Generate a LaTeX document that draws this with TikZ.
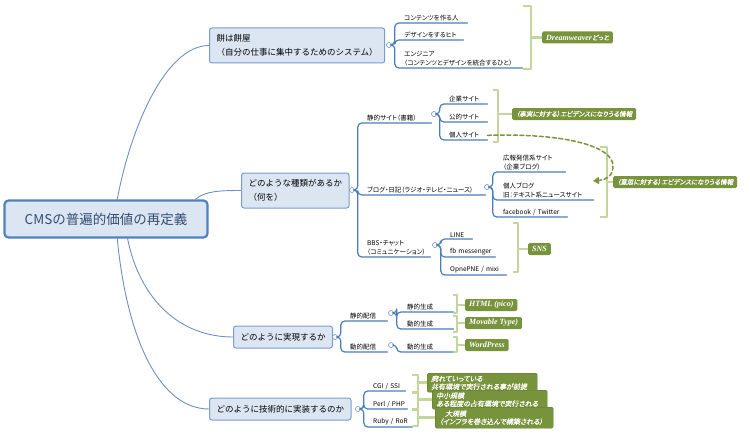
\documentclass[tikz,border=0pt]{standalone}
\usepackage{fontspec}
\setmainfont{Noto Sans CJK JP}[RawFeature=+palt]
\newfontfamily\boxfont{Noto Sans CJK JP}
\newfontfamily\notefont{Noto Sans CJK JP}[FakeSlant=0.2,FakeBold=0.6,RawFeature=+palt]
\newfontfamily\notelatin{Liberation Serif}
\usetikzlibrary{arrows.meta,calc}

\definecolor{linkblue}{RGB}{74,126,187}
\definecolor{stemblue}{RGB}{111,143,197}
\definecolor{boxfill}{RGB}{220,230,242}
\definecolor{boxline}{RGB}{122,156,205}
\definecolor{cmsline}{RGB}{79,129,189}
\definecolor{cmstext}{RGB}{52,77,117}
\definecolor{notegreen}{RGB}{119,147,60}
\definecolor{bracketgreen}{RGB}{195,214,155}

\newcommand{\lat}[1]{{\notelatin\bfseries\itshape\fontsize{8}{9}\selectfont #1}}

\begin{document}
\begin{tikzpicture}[
    x=1pt, y=-1pt,
    line cap=round,
    line join=round,
    central/.style={draw=cmsline, line width=2.2pt, fill=boxfill, rounded corners=4pt,
      text=cmstext, font=\boxfont\fontsize{13.5}{15}\selectfont,
      minimum width=203pt, minimum height=37pt},
    topic/.style={draw=boxline, line width=1pt, fill=boxfill, rounded corners=2.5pt,
      anchor=west, align=left, inner xsep=7pt, font=\boxfont\fontsize{8.5}{14.5}\selectfont},
    leaf/.style={anchor=south west, align=left, inner xsep=1.5pt, inner ysep=1.5pt,
      font=\fontsize{6.5}{9.5}\selectfont},
    knob/.style={circle, draw=stemblue, fill=white, line width=.6pt,
      inner sep=0pt, minimum size=5pt},
    stem/.style={draw=stemblue, line width=.9pt},
    twig/.style={draw=linkblue, line width=1.2pt, rounded corners=4pt},
    bracket/.style={draw=bracketgreen, line width=2.2pt, line cap=butt},
    note/.style={fill=notegreen, text=white, rounded corners=1.5pt, anchor=west,
      inner xsep=4pt, inner ysep=1pt, minimum height=12pt,
      font=\notefont\fontsize{6.5}{7.5}\selectfont},
    bignote/.style={note, anchor=north west, align=left, draw=notegreen!80!black,
      line width=.4pt, font=\notefont\fontsize{7}{8}\selectfont},
    hint/.style={draw=notegreen, line width=1.5pt, dash pattern=on 4pt off 2.5pt,
      -{Triangle[length=6pt, width=7pt]}}
  ]
\useasboundingbox (0,0) rectangle (750,436);

% ============================================================
% CENTRAL TOPIC
% ============================================================
\node[central] (cms) at (106,219) {CMSの普遍的価値の再定義};

\coordinate (o1) at ($(cms.north west)!0.555!(cms.north east)$);
\coordinate (o2) at ($(cms.north west)!0.935!(cms.north east)$);
\coordinate (o3) at ($(cms.south west)!0.605!(cms.south east)$);
\coordinate (o4) at ($(cms.south west)!0.555!(cms.south east)$);

% ============================================================
% BRANCH 1
% ============================================================
\node[topic, minimum height=35pt] (b1) at (209,45.5)
  {餅は餅屋\\（自分の仕事に集中するためのシステム）};
\draw[stem] (o1) .. controls (130,130) and (165,45.5) .. (b1.west);

\node[knob] (d1) at (389,45) {};
\node[leaf, text width=61.5pt] (c11) at (402.5,23) {コンテンツを作る人};
\node[leaf, text width=57.5pt] (c12) at (402.5,40) {デザインをするヒト};
\node[leaf, text width=116.5pt] (c13) at (402.5,68)
  {エンジニア\\（コンテンツとデザインを統合するひと）};
\foreach \c in {c11,c12,c13}
  \draw[twig] (d1.east) -- ++(3,0) |- (\c.south west) -- (\c.south east);

\draw[bracket] (523,6) -- (531,6) -- (531,69) -- (523,69);
\coordinate (k1) at (531,37.5);
\node[note] (g1) at (542,37.5) {\lat{Dreamweaver}どっと};
\draw[bracket] (k1) -- (g1.west);

% ============================================================
% BRANCH 2
% ============================================================
\node[topic, minimum height=35pt] (b2) at (241,190.5)
  {どのような種類があるか\\（何を）};
\draw[stem] (o2) .. controls (205,191) and (220,190.5) .. (b2.west);

\node[knob] (d2) at (352,190) {};
\node[leaf, text width=62.5pt] (s1) at (365.5,123) {静的サイト（書籍）};
\node[leaf, text width=116.5pt] (s2) at (365.5,195) {ブログ・日記（ラジオ・テレビ・ニュース）};
\node[leaf, text width=61.5pt] (s3) at (365.5,257) {BBS・チャット\\（コミュニケーション）};
\foreach \c in {s1,s2,s3}
  \draw[twig] (d2.east) -- ++(3,0) |- (\c.south west) -- (\c.south east);

% static sites
\node[knob] (d21) at (434,114) {};
\node[leaf, text width=36.5pt] (c21) at (447.5,104) {企業サイト};
\node[leaf, text width=36.5pt] (c22) at (447.5,122) {公的サイト};
\node[leaf, text width=36.5pt] (c23) at (447.5,140) {個人サイト};
\foreach \c in {c21,c22,c23}
  \draw[twig] (d21.east) -- ++(3,0) |- (\c.south west) -- (\c.south east);

\draw[bracket] (493,90) -- (498,90) -- (498,142) -- (493,142);
\coordinate (k2) at (498,114);
\node[note] (g2) at (512,114) {（事実に対する）エビデンスになりうる情報};
\draw[bracket] (k2) -- (g2.west);

% blogs
\node[knob] (d22) at (487,187) {};
\node[leaf, text width=60.5pt] (c24) at (501.5,172) {広報発信系サイト\\（企業ブログ）};
\node[leaf, text width=88.5pt] (c25) at (501.5,200) {個人ブログ\\旧：テキスト系ニュースサイト};
\node[leaf, text width=62.5pt] (c26) at (501.5,217) {facebook / Twitter};
\foreach \c in {c24,c25,c26}
  \draw[twig] (d22.east) -- ++(3,0) |- (\c.south west) -- (\c.south east);

\draw[bracket] (600,147) -- (607,147) -- (607,217) -- (600,217);
\coordinate (k3) at (607,182);
\node[note] (g3) at (613,182) {（意思に対する）エビデンスになりうる情報};
\draw[bracket] (k3) -- (g3.west);

% personal site also counts as intent
\coordinate (tip) at (593,181);
\draw[hint] (c23.east) .. controls (565,133) and (613,146) .. (613,166)
  .. controls (613,177) and (605,180) .. (tip);

% chat
\node[knob] (d23) at (435,245) {};
\node[leaf, text width=20.5pt] (c27) at (448.5,239) {LINE};
\node[leaf, text width=43.5pt] (c28) at (448.5,257) {fb messenger};
\node[leaf, text width=54.5pt] (c29) at (448.5,275) {OpnePNE / mixi};
\foreach \c in {c27,c28,c29}
  \draw[twig] (d23.east) -- ++(3,0) |- (\c.south west) -- (\c.south east);

\draw[bracket] (513,223) -- (518,223) -- (518,272) -- (513,272);
\coordinate (k4) at (518,249);
\node[note] (g4) at (528,249) {\lat{SNS}};
\draw[bracket] (k4) -- (g4.west);

% ============================================================
% BRANCH 3
% ============================================================
\node[topic, minimum height=22pt] (b3) at (233,337) {どのように実現するか};
\draw[stem] (o3) .. controls (140,300) and (180,337) .. (b3.west);

\node[knob] (d3) at (335,337) {};
\node[leaf, text width=35.5pt] (t1) at (348.5,321) {静的配信};
\node[leaf, text width=35.5pt] (t2) at (348.5,352) {動的配信};
\foreach \c in {t1,t2}
  \draw[twig] (d3.east) -- ++(3,0) |- (\c.south west) -- (\c.south east);

\node[knob] (d31) at (391,313) {};
\node[leaf, text width=44.5pt] (c31) at (405.5,312) {静的生成};
\node[leaf, text width=44.5pt] (c32) at (405.5,329) {動的生成};
\foreach \c in {c31,c32}
  \draw[twig] (d31.east) -- ++(3,0) |- (\c.south west) -- (\c.south east);

\node[knob] (d32) at (391,345) {};
\node[leaf, text width=44.5pt] (c33) at (405.5,352) {動的生成};
\draw[twig] (d32.east) -- ++(3,0) |- (c33.south west) -- (c33.south east);

\draw[bracket] (453,295) -- (457,295) -- (457,313) -- (453,313);
\draw[bracket] (453,316) -- (457,316) -- (457,332) -- (453,332);
\draw[bracket] (453,337) -- (457,337) -- (457,352) -- (453,352);
\coordinate (k5) at (457,305);
\coordinate (k6) at (457,323);
\coordinate (k7) at (457,345);
\node[note] (g5) at (465,305) {\lat{HTML (pico)}};
\node[note] (g6) at (465,323) {\lat{Movable Type)}};
\node[note] (g7) at (465,345) {\lat{WordPress}};
\draw[bracket] (k5) -- (g5.west);
\draw[bracket] (k6) -- (g6.west);
\draw[bracket] (k7) -- (g7.west);

% ============================================================
% BRANCH 4
% ============================================================
\node[topic, minimum height=22pt] (b4) at (209,409) {どのように技術的に実装するのか};
\draw[stem] (o4) .. controls (127,340) and (160,409) .. (b4.west);

\node[knob] (d4) at (358,409) {};
\node[leaf, text width=30.5pt] (c41) at (371.5,391) {CGI / SSI};
\node[leaf, text width=32.5pt] (c42) at (371.5,409) {Perl / PHP};
\node[leaf, text width=37.5pt] (c43) at (371.5,427) {Ruby / RoR};
\foreach \c in {c41,c42,c43}
  \draw[twig] (d4.east) -- ++(3,0) |- (\c.south west) -- (\c.south east);

\draw[bracket] (412,375) -- (418,375) -- (418,392) -- (412,392);
\draw[bracket] (412,393) -- (418,393) -- (418,409) -- (412,409);
\draw[bracket] (412,410) -- (418,410) -- (418,426) -- (412,426);
\coordinate (k8) at (418,382.5);
\coordinate (k9) at (418,399.5);
\coordinate (k10) at (418,417.5);
\draw[bracket] (k8) -- ++(10,0) coordinate (k8e);
\draw[bracket] (k9) -- ++(15,0) coordinate (k9e);
\draw[bracket] (k10) -- ++(18,0) coordinate (k10e);
\node[bignote, text width=102pt, minimum height=19pt] (g8) at (427,373)
  {廃れていっている\\共有環境で実行される事が前提};
\node[bignote, text width=107pt, minimum height=19pt] (g9) at (432,390)
  {中小規模\\ある程度の占有環境で実行される};
\node[bignote, text width=110pt, minimum height=21pt] (g10) at (435,407)
  {\hspace*{6pt}大規模\\（インフラを巻き込んで構築される）};
\end{tikzpicture}
\end{document}
